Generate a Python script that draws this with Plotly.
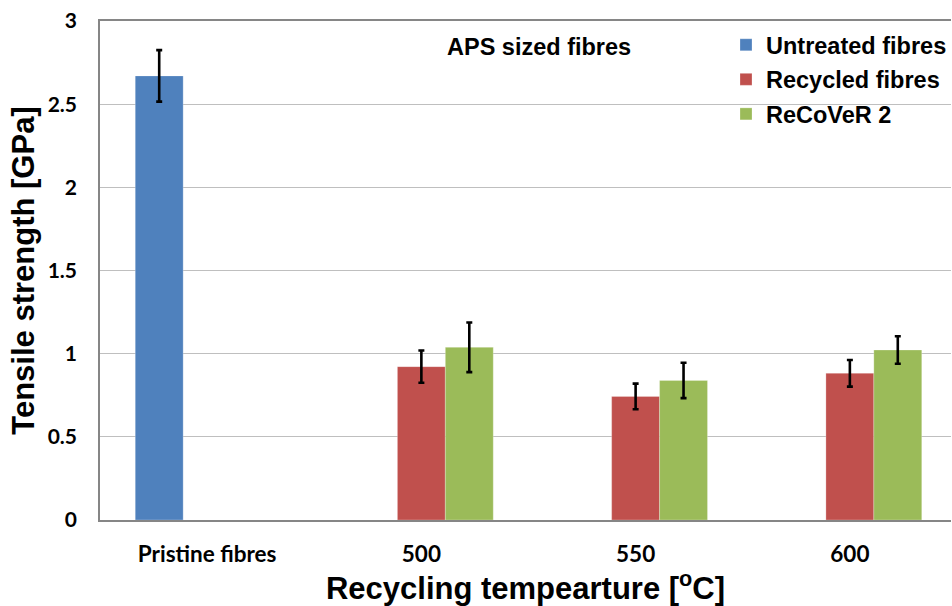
import plotly.graph_objects as go

categories = ["Pristine fibres", "500", "550", "600"]
untreated = [2.67, None, None, None]
untreated_err = [0.155, None, None, None]
recycled = [None, 0.922, 0.743, 0.882]
recycled_err = [None, 0.097, 0.077, 0.080]
recover = [None, 1.038, 0.839, 1.022]
recover_err = [None, 0.149, 0.106, 0.083]

y_ticks = [0, 0.5, 1, 1.5, 2, 2.5, 3]
y_ticktext = ["0", "0.5", "1", "1.5", "2", "2.5", "3"]

ARIAL = "Liberation Sans, Arial, Helvetica, sans-serif"
CALIBRI = "Lato, Carlito, Calibri, sans-serif"

err_style = dict(type="data", visible=True, color="black", thickness=2.6, width=3)

fig = go.Figure()
series = [
    ("Untreated fibres", untreated, untreated_err, "#4F81BD"),
    ("Recycled fibres", recycled, recycled_err, "#C0504D"),
    ("ReCoVeR 2", recover, recover_err, "#9BBB59"),
]
for i, (name, vals, errs, col) in enumerate(series):
    fig.add_trace(go.Bar(
        x=categories, y=vals, name=name,
        marker=dict(color=col, line=dict(color="rgba(255,255,255,0.5)", width=0.5)),
        error_y=dict(array=errs, **err_style),
        legendgroup=f"g{i}",
    ))

fig.update_layout(
    width=952, height=606,
    margin=dict(l=100, r=0, t=21, b=86),
    paper_bgcolor="white", plot_bgcolor="white",
    barmode="group", bargap=0.329, bargroupgap=0,
    showlegend=True,
    legend=dict(
        x=0.7359, y=0.996, xanchor="left", yanchor="top",
        xref="paper", yref="paper",
        bgcolor="rgba(0,0,0,0)",
        font=dict(family=ARIAL, size=23.5, color="black", weight="bold"),
        tracegroupgap=1, itemwidth=30,
    ),
    xaxis=dict(
        type="category", range=[-0.5, 3.472],
        showline=True, linecolor="#868686", linewidth=1.5, mirror=True,
        ticks="", showgrid=False,
        tickfont=dict(family=CALIBRI, size=22.5, color="black", weight="bold"),
        ticklabelstandoff=13,
        title=dict(text="Recycling tempearture [<sup>o</sup>C]",
                   font=dict(family=ARIAL, size=31, color="black", weight="bold"),
                   standoff=9),
    ),
    yaxis=dict(
        range=[0, 3], tickvals=y_ticks, ticktext=y_ticktext,
        showline=True, linecolor="#868686", linewidth=1.5, mirror=False,
        showgrid=True, gridcolor="#BFBFBF", gridwidth=1, zeroline=False,
        ticks="",
        tickfont=dict(family=CALIBRI, size=21, color="black", weight="bold"),
        ticklabelstandoff=17,
        title=dict(text="Tensile strength [GPa]",
                   font=dict(family=ARIAL, size=31, color="black", weight="bold"),
                   standoff=4),
    ),
    annotations=[dict(
        text="APS sized fibres",
        xref="paper", yref="paper",
        x=(540 - 100) / 852, y=1 - (46.5 - 21) / 499,
        xanchor="center", yanchor="middle", showarrow=False,
        font=dict(family=ARIAL, size=23.5, color="black", weight="bold"),
    )],
)

fig.write_html("out.html")
